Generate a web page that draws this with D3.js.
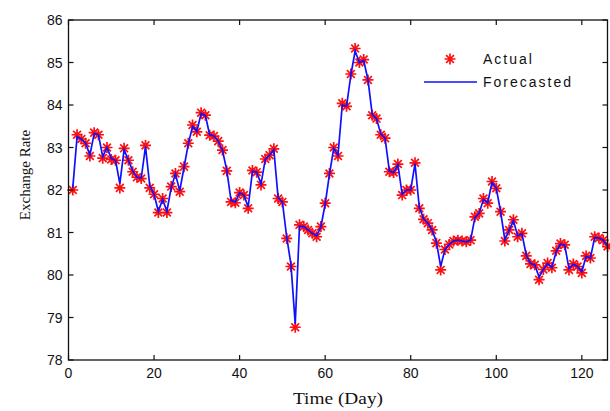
<!DOCTYPE html>
<html>
<head>
<meta charset="utf-8">
<script src="https://cdn.jsdelivr.net/npm/d3@7"></script>
<style>
  body { margin: 0; background: #fff; }
  svg { display: block; }
  .tick-label { font-family: "Liberation Sans", Arial, sans-serif; font-size: 14px; fill: #111; }
  .axis-title { font-family: "Liberation Serif", "Times New Roman", serif; fill: #111; }
  .legend-text { font-family: "Liberation Sans", Arial, sans-serif; font-size: 14px; letter-spacing: 2px; fill: #111; }
</style>
</head>
<body>
<script>
// daily exchange rate, days 1..126
const days = d3.range(1, 127);
const actual = [
  82.0, 83.3, 83.2, 83.1, 82.8, 83.35, 83.3, 82.75, 83.0, 82.72,
  82.7, 82.05, 82.98, 82.7, 82.43, 82.3, 82.27, 83.05, 82.05, 81.9,
  81.47, 81.8, 81.47, 82.08, 82.39, 81.96, 82.55, 83.1, 83.53, 83.37,
  83.82, 83.76, 83.29, 83.27, 83.15, 82.94, 82.45, 81.72, 81.7, 81.94,
  81.88, 81.57, 82.46, 82.42, 82.12, 82.73, 82.82, 82.97, 81.8, 81.72,
  80.86, 80.2, 78.77, 81.18, 81.14, 81.06, 80.98, 80.9, 81.14, 81.69,
  82.39, 83.0, 82.8, 84.04, 83.97, 84.73, 85.33, 85.0, 85.07, 84.59,
  83.76, 83.68, 83.3, 83.22, 82.43, 82.41, 82.61, 81.88, 82.0, 82.0,
  82.64, 81.57, 81.31, 81.22, 81.06, 80.75, 80.12, 80.6, 80.72, 80.8,
  80.82, 80.8, 80.78, 80.82, 81.37, 81.45, 81.8, 81.69, 82.2, 82.04,
  81.49, 80.8, 81.06, 81.3, 80.9, 80.98, 80.45, 80.26, 80.24, 79.89,
  80.13, 80.28, 80.17, 80.57, 80.74, 80.71, 80.12, 80.26, 80.2, 80.05,
  80.45, 80.4, 80.9, 80.87, 80.82, 80.67
];
const forecast = [
  82.05, 83.25, 83.2, 83.1, 82.82, 83.33, 83.3, 82.78, 83.0, 82.74,
  82.7, 82.15, 82.95, 82.7, 82.45, 82.3, 82.28, 83.02, 82.1, 81.9,
  81.5, 81.78, 81.5, 82.05, 82.38, 81.98, 82.53, 83.08, 83.5, 83.38,
  83.8, 83.75, 83.3, 83.27, 83.15, 82.93, 82.47, 81.75, 81.72, 81.93,
  81.88, 81.6, 82.44, 82.42, 82.14, 82.72, 82.82, 82.95, 81.82, 81.72,
  80.9, 80.25, 78.85, 81.15, 81.14, 81.06, 80.98, 80.92, 81.13, 81.67,
  82.37, 82.98, 82.82, 84.0, 83.97, 84.7, 85.27, 85.0, 85.05, 84.6,
  83.78, 83.68, 83.32, 83.22, 82.45, 82.41, 82.6, 81.9, 82.0, 82.0,
  82.62, 81.6, 81.32, 81.22, 81.06, 80.78, 80.2, 80.6, 80.72, 80.8,
  80.82, 80.8, 80.78, 80.82, 81.35, 81.45, 81.78, 81.7, 82.18, 82.04,
  81.5, 80.83, 81.05, 81.28, 80.92, 80.97, 80.47, 80.27, 80.24, 79.95,
  80.13, 80.27, 80.18, 80.55, 80.73, 80.7, 80.15, 80.25, 80.2, 80.08,
  80.44, 80.4, 80.88, 80.87, 80.82, 80.68
];
const xTicks = [0, 20, 40, 60, 80, 100, 120];
const yTicks = [78, 79, 80, 81, 82, 83, 84, 85, 86];

const W = 610, H = 411;
const mLeft = 68.5, mRight = 607.5, mTop = 20, mBottom = 360;

const x = d3.scaleLinear().domain([0, 126]).range([mLeft, mRight]);
const y = d3.scaleLinear().domain([78, 86]).range([mBottom, mTop]);

const svg = d3.select('body').append('svg')
    .attr('width', W)
    .attr('height', H);

// star marker (matlab '*')
const starPath = (s, k) => `M${-s},0h${2 * s}M0,${-s}v${2 * s}M${-k},${-k}l${2 * k},${2 * k}M${-k},${k}l${2 * k},${-2 * k}`;

// actual points
svg.append('g')
  .selectAll('path')
  .data(days)
  .join('path')
    .attr('transform', (d, i) => `translate(${x(d)},${y(actual[i])})`)
    .attr('d', starPath(5.5, 3.9))
    .attr('stroke', '#ff1010')
    .attr('stroke-width', 1.7)
    .attr('fill', 'none');

// forecast line
const line = d3.line()
    .x((d, i) => x(days[i]))
    .y(d => y(d));

svg.append('path')
    .datum(forecast)
    .attr('d', line)
    .attr('fill', 'none')
    .attr('stroke', '#1010ff')
    .attr('stroke-width', 1.7);

// box
svg.append('rect')
    .attr('x', mLeft).attr('y', mTop)
    .attr('width', mRight - mLeft).attr('height', mBottom - mTop)
    .attr('fill', 'none')
    .attr('stroke', '#111')
    .attr('stroke-width', 1.3);

const tl = 5;
const ticks = svg.append('g').attr('stroke', '#111').attr('stroke-width', 1.2);
xTicks.forEach(t => {
  ticks.append('line').attr('x1', x(t)).attr('x2', x(t)).attr('y1', mBottom).attr('y2', mBottom - tl);
  ticks.append('line').attr('x1', x(t)).attr('x2', x(t)).attr('y1', mTop).attr('y2', mTop + tl);
});
yTicks.forEach(t => {
  ticks.append('line').attr('x1', mLeft).attr('x2', mLeft + tl).attr('y1', y(t)).attr('y2', y(t));
  ticks.append('line').attr('x1', mRight).attr('x2', mRight - tl).attr('y1', y(t)).attr('y2', y(t));
});

svg.append('g').selectAll('text')
  .data(xTicks)
  .join('text')
    .attr('class', 'tick-label')
    .attr('x', d => x(d))
    .attr('y', mBottom + 18)
    .attr('text-anchor', 'middle')
    .text(d => d);

svg.append('g').selectAll('text')
  .data(yTicks)
  .join('text')
    .attr('class', 'tick-label')
    .attr('x', mLeft - 6)
    .attr('y', d => y(d) + 5)
    .attr('text-anchor', 'end')
    .text(d => d);

// axis titles
svg.append('text')
    .attr('class', 'axis-title')
    .attr('x', 338).attr('y', 404)
    .attr('text-anchor', 'middle')
    .style('font-size', '17px')
    .attr('textLength', 90)
    .attr('lengthAdjust', 'spacingAndGlyphs')
    .text('Time (Day)');

svg.append('text')
    .attr('class', 'axis-title')
    .attr('transform', 'translate(30,175) rotate(-90)')
    .attr('text-anchor', 'middle')
    .style('font-size', '15px')
    .text('Exchange Rate');

// legend
svg.append('path')
    .attr('transform', 'translate(450,59)')
    .attr('d', starPath(5.5, 3.9))
    .attr('stroke', '#ff1010')
    .attr('stroke-width', 1.7)
    .attr('fill', 'none');
svg.append('line')
    .attr('x1', 424).attr('x2', 477).attr('y1', 82).attr('y2', 82)
    .attr('stroke', '#1010ff').attr('stroke-width', 1.7);
svg.append('text').attr('class', 'legend-text').attr('x', 483).attr('y', 64).text('Actual');
svg.append('text').attr('class', 'legend-text').attr('x', 483).attr('y', 87).text('Forecasted');
</script>
</body>
</html>
